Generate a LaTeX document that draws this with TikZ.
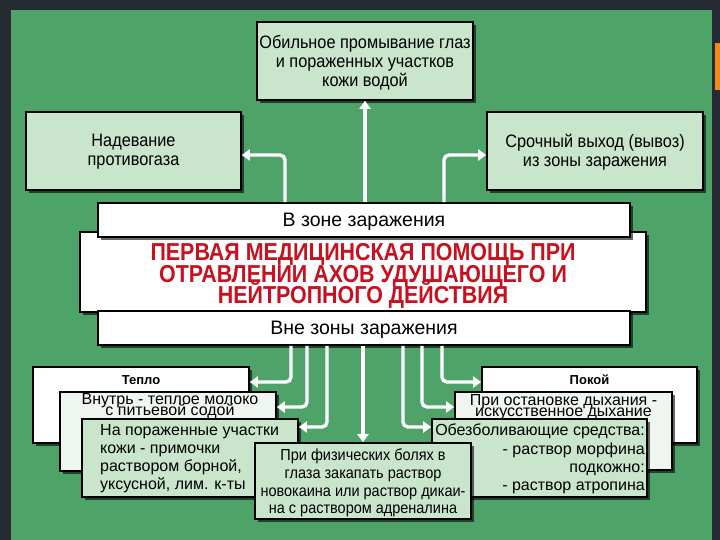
\documentclass[tikz,border=0pt]{standalone}
\usepackage{fontspec}
\setmainfont{Liberation Sans}
\newfontfamily\nfont[FakeStretch=0.905]{Liberation Sans}
\newfontfamily\tfont[FakeStretch=0.875]{Liberation Sans}
\newcommand\mynolsk{\lineskiplimit=-30pt\relax}
\usetikzlibrary{arrows.meta,shadows}
\definecolor{bgdark}{HTML}{262A32}
\definecolor{panel}{HTML}{4EA468}
\definecolor{boxgreen}{HTML}{C9E5CC}
\definecolor{boxpale}{HTML}{EEF6EF}
\definecolor{titlered}{HTML}{C8101E}
\definecolor{orangebar}{HTML}{F28A1A}
\begin{document}
\begin{tikzpicture}[x=1pt,y=-1pt,
  box/.style={draw=black,line width=1.6pt,fill=boxgreen,inner sep=0pt,
    drop shadow={shadow xshift=3pt,shadow yshift=-3pt,opacity=0.6,fill=black}},
  wbox/.style={box,fill=white},
  pbox/.style={box,fill=boxpale},
  ntxt/.style={inner sep=0pt,align=center,font=\nfont\fontsize{18}{19}\selectfont},
  ztxt/.style={inner sep=0pt,align=center,font=\fontsize{19.5}{20}\selectfont},
  rtxt/.style={inner sep=0pt,font=\fontsize{16}{18.2}\selectfont},
  arr/.style={draw=white,line width=3.4pt,rounded corners=5pt,-{Triangle[width=11pt,length=8pt]}}
]
\useasboundingbox (0,0) rectangle (720,540);
\fill[bgdark] (0,0) rectangle (720,540);
\fill[panel] (11,10) rectangle (712,540);
\fill[orangebar] (715,43) rectangle (720,90);

% top boxes
\node[box,minimum width=216pt,minimum height=78pt] (topbox) at (365,61) {};
\node[box,minimum width=215pt,minimum height=78pt] (leftbox) at (133.5,151) {};
\node[box,minimum width=216pt,minimum height=78pt] (rightbox) at (595,151) {};
\node[ntxt] (ttop) at (365,63) {Обильное промывание глаз\\и пораженных участков\\кожи водой};
\node[ntxt] (tleft) at (133.5,152) {Надевание\\противогаза};
\node[ntxt] (tright) at (595,152) {Срочный выход (вывоз)\\из зоны заражения};

% central block
\node[wbox,minimum width=566pt,minimum height=80pt] (main) at (363,272) {};
\node[wbox,minimum width=532pt,minimum height=34pt] (inzone) at (364,220) {};
\node[wbox,minimum width=532pt,minimum height=34pt] (outzone) at (364,328) {};
\node[ztxt] (tin) at (364,222) {В зоне заражения};
\node[ztxt] (tout) at (364,330) {Вне зоны заражения};
\node[inner sep=0pt,align=center,text=titlered,
  font=\tfont\bfseries\fontsize{24.5}{21.5}\selectfont\mynolsk] (title) at (363,276)
  {ПЕРВАЯ МЕДИЦИНСКАЯ ПОМОЩЬ ПРИ\\ОТРАВЛЕНИИ АХОВ УДУШАЮЩЕГО И\\НЕЙТРОПНОГО ДЕЙСТВИЯ};

% bottom left stack
\node[wbox,minimum width=216pt,minimum height=76pt] (teplo) at (141,405) {};
\node[pbox,minimum width=216pt,minimum height=79pt] (vnutr) at (168,431.5) {};
\node[box,minimum width=216pt,minimum height=78pt] (naporazh) at (190,458) {};
% bottom right stack
\node[wbox,minimum width=215pt,minimum height=76pt] (pokoy) at (589.5,405) {};
\node[pbox,minimum width=217pt,minimum height=78pt] (priost) at (563.5,431) {};
\node[box,minimum width=215pt,minimum height=78pt] (obezb) at (539.5,458) {};
% bottom centre
\node[box,minimum width=216pt,minimum height=76pt] (central) at (363,481) {};

\node[inner sep=0pt,font=\bfseries\fontsize{13}{15}\selectfont] (tteplo) at (141,380) {Тепло};
\node[inner sep=0pt,font=\bfseries\fontsize{13}{15}\selectfont] (tpokoy) at (589.5,380) {Покой};
\node[rtxt,align=center,font=\fontsize{16}{11}\selectfont\mynolsk] (tvnutr) at (170,406) {Внутрь - теплое молоко\\с питьевой содой};
\node[rtxt,align=center,font=\fontsize{16}{11}\selectfont\mynolsk] (tpriost) at (563.5,407) {При остановке дыхания -\\искусственное дыхание};
\node[rtxt,align=left,anchor=north west] (tnapor) at (100,424)
  {На пораженные участки\\кожи - примочки\\раствором борной,\\уксусной, лим. к-ты};
\node[rtxt,align=right,anchor=north east] (tobezb) at (645,424)
  {Обезболивающие средства:\\- раствор морфина\\подкожно:\\- раствор атропина};
\node[ntxt,font=\nfont\fontsize{16}{17.7}\selectfont] (tcentral) at (363,483)
  {При физических болях в\\глаза закапать раствор\\новокаина или раствор дикаи-\\на с раствором адреналина};

% connector turning points
\coordinate (u1) at (285,155);
\coordinate (u2) at (444,155);
\coordinate (d1) at (291,382);
\coordinate (d2) at (307,407);
\coordinate (d3) at (327,427);
\coordinate (d5) at (403,427);
\coordinate (d6) at (422,407);
\coordinate (d7) at (442,382);

% upper connectors
\draw[arr] (topbox.south |- inzone.north) -- (topbox.south);
\draw[arr] (u1 |- inzone.north) |- (leftbox.east |- u1);
\draw[arr] (u2 |- inzone.north) |- (rightbox.west |- u2);
% lower connectors
\draw[arr] (d1 |- outzone.south) |- (teplo.east |- d1);
\draw[arr] (d2 |- outzone.south) |- (vnutr.east |- d2);
\draw[arr] (d3 |- outzone.south) |- (naporazh.east |- d3);
\draw[arr] (central.north |- outzone.south) -- (central.north);
\draw[arr] (d5 |- outzone.south) |- (obezb.west |- d5);
\draw[arr] (d6 |- outzone.south) |- (priost.west |- d6);
\draw[arr] (d7 |- outzone.south) |- (pokoy.west |- d7);
\end{tikzpicture}
\end{document}
